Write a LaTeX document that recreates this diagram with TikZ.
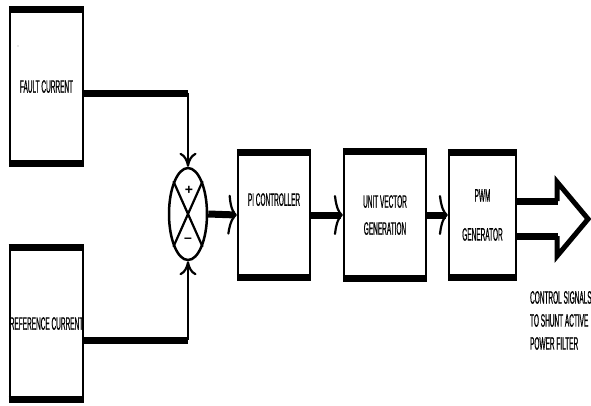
\documentclass[tikz,border=0pt]{standalone}
\usepackage{fontspec}
\usetikzlibrary{positioning,calc,shapes.geometric,arrows.meta}
\newfontfamily\blockfont{Liberation Sans}[FakeStretch=0.36, FakeBold=0.6]
\newfontfamily\signfont{Liberation Sans Bold}

\begin{document}
\begin{tikzpicture}[x=1pt, y=-1pt, line width=2.2pt,
    box/.style={draw, rectangle, inner sep=0pt, align=center,
        font=\blockfont\fontsize{18}{27}\selectfont},
    bus/.style={line width=7pt},
    tiph/.style={-{Computer Modern Rightarrow[length=9pt, width=40pt, line width=2.2pt]}},
    tipv/.style={-{Computer Modern Rightarrow[length=14pt, width=17pt, line width=2.2pt]}}]
\useasboundingbox (0,0) rectangle (591,405);

% input blocks
\path (46.5, 86.5) node[box, minimum width=73pt, minimum height=157pt] (fault) {FAULT CURRENT};
\path (46.5, 323.5) node[box, minimum width=73pt, minimum height=155pt] (refc) {REFERENCE CURRENT};
\path (18, 46) node[font=\blockfont\fontsize{8}{8}\selectfont, inner sep=0pt] (dot) {.};

% summing point
\path (188, 214) node[draw, ellipse, minimum width=38pt, minimum height=92pt,
    line width=2.5pt, inner sep=0pt] (sum) {};
\draw (sum.66) -- (sum.-114);
\draw (sum.114) -- (sum.-66);
\path (sum.center) ++(1,-24) node[inner sep=0pt, font=\signfont\fontsize{14}{14}\selectfont] (plus) {+};
\path (sum.center) ++(0,26) node[inner sep=0pt, font=\signfont\fontsize{14}{14}\selectfont] (minus) {\textendash};

% controller chain
\path (274, 215) node[box, minimum width=72pt, minimum height=128pt] (pi) {PI CONTROLLER\\[4pt]};
\path (385, 215) node[box, minimum width=82pt, minimum height=130pt] (uvg) {UNIT VECTOR\\GENERATION};
\path (482.5, 215) node[box, minimum width=67pt, minimum height=128pt] (pwm) {PWM\\[12pt]GENERATOR};

\foreach \b in {fault, refc, pi, uvg, pwm}{
    \draw[bus] ([yshift=-2.5pt]\b.north west) -- ([yshift=-2.5pt]\b.north east);
    \draw[bus] ([yshift=2.5pt]\b.south west) -- ([yshift=2.5pt]\b.south east);
};

% signals
\draw[bus] ([yshift=-6.5pt]fault.east) -- ([yshift=-6.5pt]fault.east -| sum.north) coordinate (fbend);
\draw[tipv] (fbend) -- (sum.north);
\draw[bus] ([yshift=-16.5pt]refc.east) -- ([yshift=-16.5pt]refc.east -| sum.south) coordinate (rbend);
\draw[tipv] (rbend) -- (sum.south);

\draw[bus, tiph] (sum.east) -- (pi.west);
\draw[bus, tiph] (pi.east) -- (uvg.west);
\draw[bus, tiph] (uvg.east) -- (pwm.west);

% output arrow
\draw[bus] ([yshift=14pt]pwm.east) -- ++(41,0) coordinate (ha);
\draw[bus] ([yshift=-21pt]pwm.east) -- ++(41,0) coordinate (hb);
\draw[line width=5pt, line join=miter] ([xshift=-1pt]ha) -- ++(0,-19) -- ++(31,37) -- ++(-31,37) -- ([xshift=-1pt]hb);

\path (529, 290) node[anchor=north west, align=left, inner sep=0pt,
    font=\blockfont\fontsize{18}{23}\selectfont] (ctrl) {CONTROL SIGNALS\\TO SHUNT ACTIVE\\POWER FILTER};
\end{tikzpicture}
\end{document}
